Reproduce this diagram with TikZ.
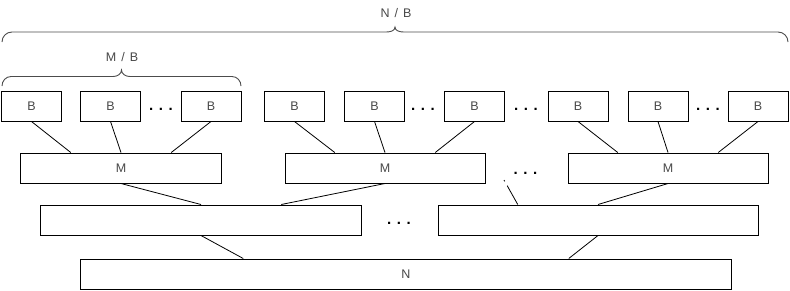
\documentclass[tikz,border=0pt]{standalone}
\usepackage{fontspec}
\setmainfont{Liberation Sans}
\usetikzlibrary{calc}
\definecolor{labelgrey}{RGB}{72,72,72}

\begin{document}
\begin{tikzpicture}[x=1bp,y=-1bp,
  every node/.style={font=\fontsize{12.5bp}{14bp}\selectfont, text=labelgrey},
  blk/.style={draw=black, line width=1bp, inner sep=0pt, minimum height=30bp},
  bblk/.style={blk, minimum width=60bp},
  mblk/.style={blk, minimum width=200bp},
  lblk/.style={blk, minimum width=320bp},
  link/.style={draw=black, line width=0.8bp},
  brc/.style={draw=black!70, line width=0.9bp},
  gapdots/.style={font=\fontsize{15bp}{17bp}\selectfont\bfseries, text=black,
                  inner sep=0pt, anchor=base}
]
\useasboundingbox (0,0) rectangle (790,290);

% top row of B blocks
\foreach \nd/\xx in {b1/31.5,b2/110.5,b3/211,b4/294.5,b5/374.5,
                     b6/474.5,b7/578,b8/658,b9/758}
  \node[bblk] (\nd) at (\xx,106) {B};

% middle rows
\node[mblk] (m1) at (121,168) {M};
\node[mblk] (m2) at (385,168) {M};
\node[mblk] (m3) at (668,168) {M};
\node[lblk] (l1) at (201,220) {};
\node[lblk] (l2) at (598,220) {};
\node[blk, minimum width=650bp] (n) at (406,274) {N};

% ellipses
\foreach \nd/\xx/\yy in {d1/161/110,d2/423/110,d3/526/110,d4/708/110,
                         d5/525.5/174,d6/399/224}
  \node[gapdots] (\nd) at (\xx,\yy) {. . .};

% B -> M
\foreach \b/\m/\f in {b1/m1/.25,b2/m1/.5,b3/m1/.75,
                      b4/m2/.25,b5/m2/.5,b6/m2/.75,
                      b7/m3/.25,b8/m3/.5,b9/m3/.75}
  \draw[link] (\b.south) -- ($(\m.north west)!\f!(\m.north east)$);

% M -> L, L -> N
\foreach \a/\z/\f in {m1/l1/.5,m2/l1/.75,m3/l2/.5,l1/n/.25,l2/n/.75}
  \draw[link] (\a.south) -- ($(\z.north west)!\f!(\z.north east)$);
\coordinate (hidden) at (504,180);
\draw[link, dash pattern=on 1.5bp off 5bp on 40bp]
  (hidden) -- ($(l2.north west)!.25!(l2.north east)$);

% braces
\coordinate (nbl) at (2,42);
\coordinate (nbr) at (788,42);
\draw[brc] (nbl) to[out=90,in=180] (12,32) -- (386,32)
  to[out=0,in=-90] (395,27) to[out=-90,in=180] (404,32) -- (778,32)
  to[out=0,in=90] (nbr);
\node (nblab) at (396,13) {N\hspace{5bp}/\hspace{5bp}B};
\coordinate (mbl) at (2,86);
\coordinate (mbr) at (241,86);
\draw[brc] (mbl) to[out=90,in=180] (11,76.5) -- (113,76.5)
  to[out=0,in=-90] (121.5,70) to[out=-90,in=180] (130,76.5) -- (232,76.5)
  to[out=0,in=90] (mbr);
\node (mblab) at (122,57) {M\hspace{5bp}/\hspace{5bp}B};
\end{tikzpicture}
\end{document}
